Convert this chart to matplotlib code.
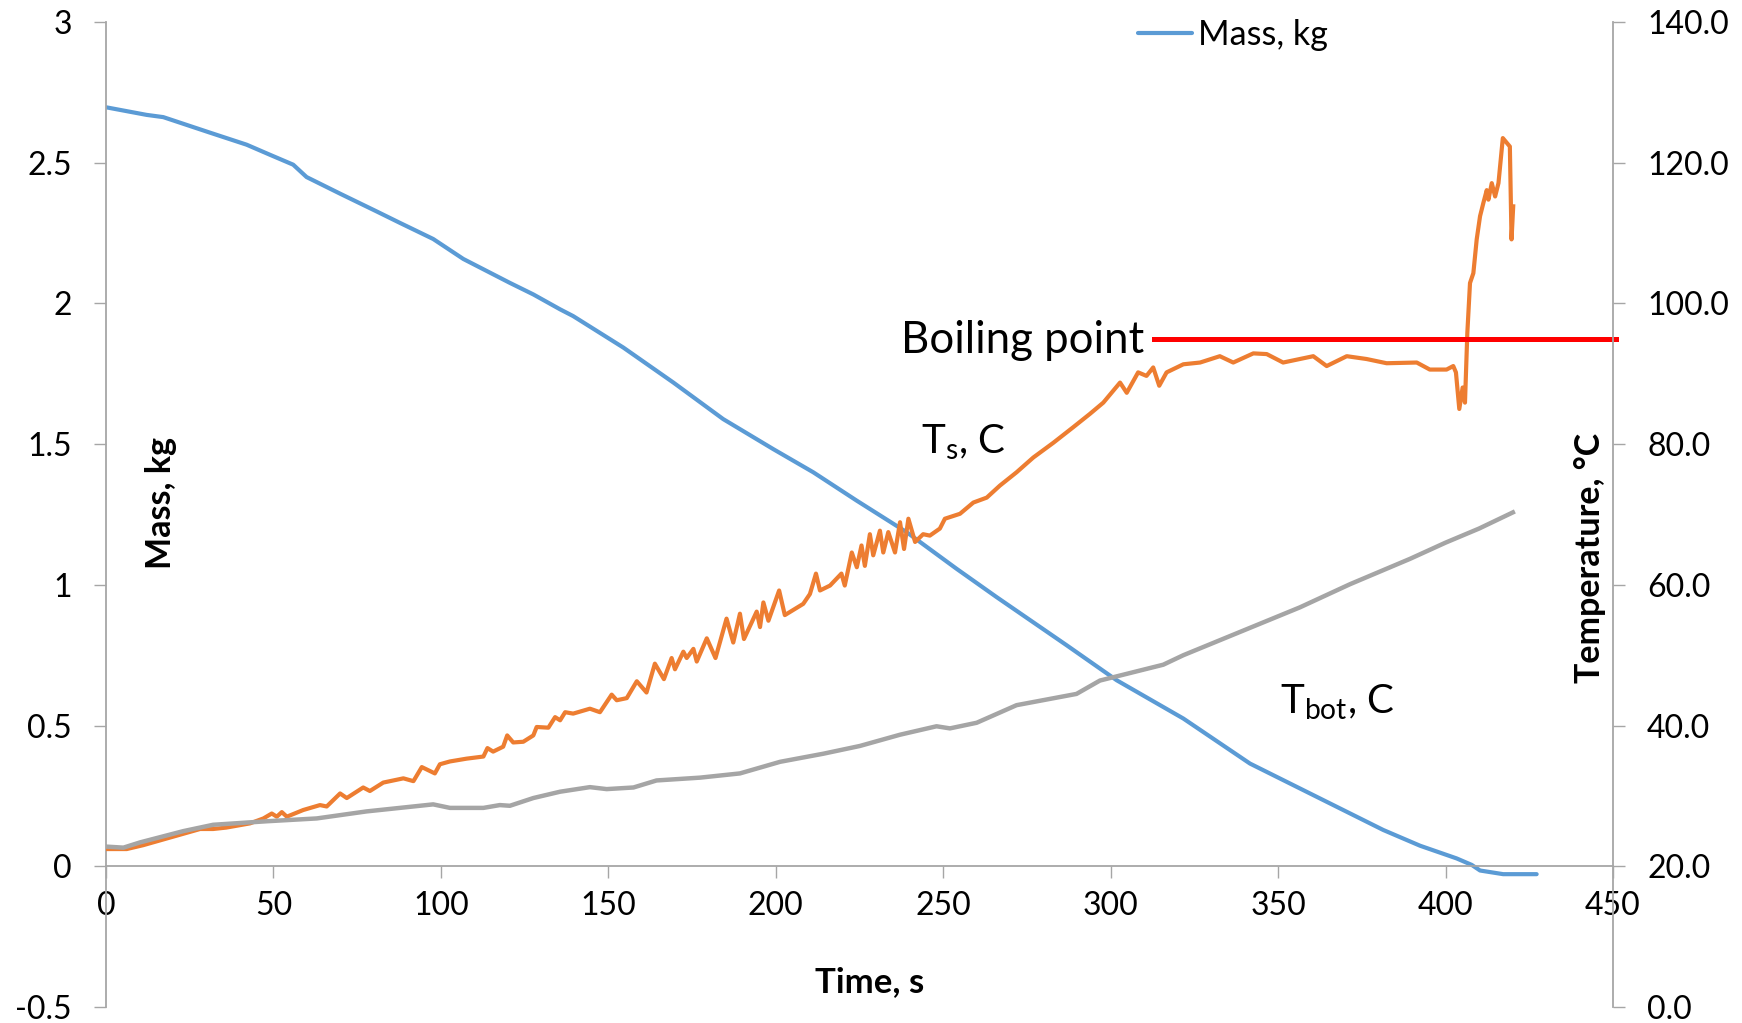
import numpy as np
import matplotlib
matplotlib.use('Agg')
import matplotlib.pyplot as plt
from matplotlib.ticker import FormatStrFormatter, FuncFormatter

plt.rcParams['font.family'] = ['Lato', 'DejaVu Sans']
plt.rcParams['mathtext.fontset'] = 'custom'
plt.rcParams['mathtext.rm'] = 'Lato'
plt.rcParams['mathtext.it'] = 'Lato:italic'

# Masse (kg) gegen Zeit (s)
t_mass = [0, 12.1, 17.1, 31, 42, 49, 55.9, 59.9, 69.9, 80.8, 87.8, 97.7, 106.7,
          120.6, 127.6, 135.6, 139.5, 154.5, 169.4, 184.3, 199.3, 211.2, 224.2,
          239.1, 254.0, 266, 286.9, 301.8, 321.7, 341.6, 361.5, 381.4, 392.4,
          403.3, 407.8, 410.3, 417.2, 427.2]
mass = [2.697, 2.670, 2.662, 2.607, 2.564, 2.528, 2.493, 2.449, 2.390, 2.327,
        2.286, 2.229, 2.158, 2.073, 2.032, 1.979, 1.955, 1.843, 1.719, 1.589,
        1.482, 1.400, 1.299, 1.187, 1.057, 0.956, 0.785, 0.661, 0.525, 0.365,
        0.247, 0.129, 0.073, 0.028, 0.005, -0.015, -0.028, -0.028]

# Oberflaechentemperatur T_s (C)
t_ts = [0, 6.2, 11.1, 28.1, 32, 35.9, 43, 47, 49.5, 51, 52.5, 54, 58.9, 63.9,
        65.9, 69.9, 71.9, 76.8, 78.8, 82.8, 88.8, 91.8, 94.3, 98.2, 99.7, 102.7,
        107.7, 112.7, 113.9, 115.6, 118.6, 119.8, 121.6, 124.6, 127.6, 128.6,
        132.1, 134.1, 135.6, 137.1, 139.5, 144.5, 147.5, 151, 152.5, 155.5,
        158.5, 161.4, 163.9, 166.6, 168.9, 169.9, 172.4, 173.4, 175.4, 176.4,
        179.4, 182, 185.3, 187.3, 189.3, 190.5, 194.3, 195.3, 196.3, 197.8, 201,
        202.7, 208.2, 210.2, 212, 213.2, 216.2, 219.6, 220.6, 222.7, 224.2,
        225.6, 226.6, 228.1, 229.1, 231.1, 232.1, 233.6, 235.6, 237.1, 238.3,
        239.6, 241.6, 244, 246, 249, 250.5, 255, 259, 263, 266.9, 271.9, 276.9,
        282.9, 288.8, 293.8, 297.8, 300.8, 302.8, 304.8, 308.2, 310.7, 312.7,
        314.5, 316.7, 321.7, 326.7, 332.6, 336.6, 342.6, 346.6, 351.5, 360.5,
        364.5, 370.5, 376.4, 382.4, 391.4, 395.3, 400.3, 402.3, 403.1, 404.1,
        405.1, 405.8, 406.5, 407.3, 408.3, 409.3, 410.3, 411.3, 412.3, 412.8,
        413.8, 414.8, 415.8, 417.1, 419.2, 419.7, 420.2]
ts = [22.45, 22.45, 23.0, 25.3, 25.3, 25.5, 26.1, 26.8, 27.5, 27.05, 27.7, 27.05,
      28.0, 28.7, 28.5, 30.35, 29.7, 31.2, 30.7, 31.9, 32.5, 32.1, 34.1, 33.2,
      34.5, 34.9, 35.3, 35.6, 36.8, 36.3, 37.0, 38.6, 37.6, 37.7, 38.6, 39.8,
      39.7, 41.2, 40.75, 41.9, 41.7, 42.4, 41.9, 44.4, 43.6, 43.9, 46.3, 44.7,
      48.8, 46.6, 49.6, 48.0, 50.5, 49.6, 50.9, 49.1, 52.4, 49.6, 55.2, 51.8,
      55.9, 52.3, 56.2, 54.0, 57.5, 54.9, 59.2, 55.7, 57.3, 58.7, 61.6, 59.2,
      59.9, 61.6, 59.9, 64.6, 62.5, 65.6, 62.7, 67.2, 64.2, 67.7, 64.6, 67.5,
      64.6, 68.9, 65.1, 69.4, 66.1, 67.2, 67.0, 68.0, 69.4, 70.1, 71.7, 72.4,
      74.1, 76.0, 78.1, 80.2, 82.4, 84.3, 85.9, 87.6, 88.75, 87.3, 90.2, 89.7,
      90.9, 88.3, 90.2, 91.35, 91.6, 92.5, 91.6, 92.9, 92.8, 91.6, 92.5, 91.1,
      92.5, 92.1, 91.5, 91.6, 90.6, 90.6, 91.1, 90.2, 85.0, 88.05, 85.9, 95.8,
      102.9, 104.3, 109.1, 112.4, 114.3, 116.1, 114.75, 117.1, 115.2, 117.1,
      123.5, 122.3, 109.1, 113.8]

# Bodentemperatur T_bot (C)
t_tbot = [0, 5.2, 10.2, 23.1, 32, 48, 62.9, 77.8, 97.7, 102.7, 112.7, 117.6,
          120.6, 127.6, 135.6, 144.5, 149.5, 157.5, 164.4, 177.4, 189.3, 201.3,
          214.2, 225.1, 237.1, 248, 252, 260, 271.9, 289.8, 296.8, 315.7, 321.7,
          339.6, 356.5, 371.5, 389.4, 400, 410, 420.1]
tbot = [22.8, 22.65, 23.4, 25.0, 25.9, 26.4, 26.8, 27.8, 28.8, 28.3, 28.3, 28.7,
        28.6, 29.7, 30.6, 31.25, 30.97, 31.2, 32.2, 32.6, 33.2, 34.85, 36.0,
        37.1, 38.7, 39.9, 39.6, 40.4, 42.9, 44.5, 46.4, 48.65, 50.0, 53.5, 56.8,
        60.1, 63.7, 66.0, 68.0, 70.3]

# Siedepunkt
boil_temp = 95
boil_t = [313, 451]

BLUE = '#5B9BD5'
ORANGE = '#ED7D31'
GREY = '#A5A5A5'
AXC = '#A6A6A6'

fig = plt.figure(figsize=(17.42, 10.23), dpi=100)
ax = fig.add_axes([106 / 1742, 16 / 1023, 1507 / 1742, 985 / 1023])
ax2 = ax.twinx()

ax.plot(t_mass, mass, color=BLUE, lw=3, label='Mass, kg', solid_capstyle='round')
ax2.plot(t_ts, ts, color=ORANGE, lw=3, solid_joinstyle='round')
ax2.plot(t_tbot, tbot, color=GREY, lw=3.2, solid_joinstyle='round')
ax2.plot(boil_t, [boil_temp, boil_temp], color='#FF0000', lw=3.6, clip_on=False)

ax.set_xlim(0, 450)
ax.set_ylim(-0.5, 3)
ax2.set_ylim(0, 140)
ax.set_xticks(np.arange(0, 451, 50))
ax.set_yticks(np.arange(-0.5, 3.01, 0.5))
ax2.set_yticks(np.arange(0, 141, 20))
ax.yaxis.set_major_formatter(FuncFormatter(lambda v, p: '%g' % v))
ax2.yaxis.set_major_formatter(FormatStrFormatter('%.1f'))

for a in (ax, ax2):
    for s in a.spines.values():
        s.set_color(AXC)
        s.set_linewidth(1.3)
    a.spines['top'].set_visible(False)
ax.spines['right'].set_visible(False)
ax.spines['bottom'].set_position(('data', 0))
ax2.spines['left'].set_visible(False)
ax2.spines['bottom'].set_visible(False)

ax.tick_params(axis='both', direction='out', length=8.6, width=1, color=AXC,
               labelsize=23, pad=16)
ax.tick_params(axis='x', pad=9)
ax2.tick_params(axis='y', direction='out', length=8.6, width=1, color=AXC,
                labelsize=23, pad=16)

# Achsentitel innerhalb der Zeichenflaeche
ax.text(0.0365, 0.512, 'Mass, kg', transform=ax.transAxes, rotation=90,
        ha='center', va='center', fontsize=24.5, fontweight='bold')
ax.text(0.985, 0.456, 'Temperature, °C', transform=ax.transAxes, rotation=90,
        ha='center', va='center', fontsize=24.5, fontweight='bold')
ax.text(0.507, 0.0254, 'Time, s', transform=ax.transAxes,
        ha='center', va='center', fontsize=25, fontweight='bold')

ax2.text(310, 93.0, 'Boiling point', ha='right', va='baseline', fontsize=31.5)
ax2.text(243.5, 78.6, r'T$_\mathrm{s}$, C', ha='left', va='baseline', fontsize=29)
ax2.text(350.6, 41.7, r'T$_\mathrm{bot}$, C', ha='left', va='baseline', fontsize=29)

fig.legend(handles=ax.get_lines(), loc='center left',
           bbox_to_anchor=(1138 / 1742, 1 - 35 / 1023), frameon=False,
           fontsize=24.5, handlelength=1.6, handletextpad=0.15, borderpad=0,
           borderaxespad=0)

fig.savefig('out.png', dpi=100)
